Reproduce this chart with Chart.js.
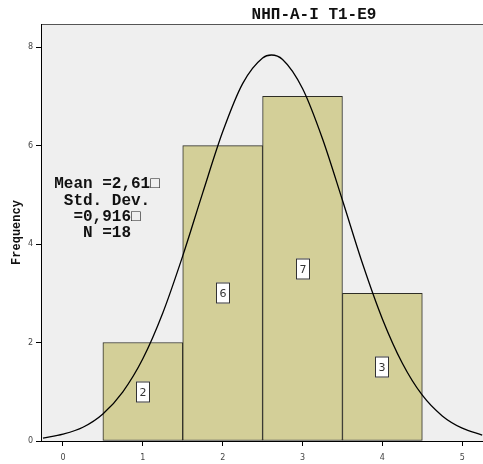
<!DOCTYPE html>
<html>
<head>
<meta charset="utf-8">
<script src="https://cdn.jsdelivr.net/npm/chart.js@4.4.1/dist/chart.umd.min.js"></script>
<style>
  html, body { margin: 0; padding: 0; background: #ffffff; }
  #wrap { width: 483px; height: 464px; position: relative; }
</style>
</head>
<body>
<div id="wrap"><canvas id="c" width="483" height="464"></canvas></div>
<script>
// ---- data ----
const binCenters = [1, 2, 3, 4];
const frequencies = [2, 6, 7, 3];
const xTickValues = [0, 1, 2, 3, 4, 5];
const yTickValues = [0, 2, 4, 6, 8];
// normal curve values (mean 2.61, sd 0.916, N 18)
const curveX = [-0.25, 0, 0.25, 0.5, 0.75, 1, 1.25, 1.5, 1.75, 2, 2.25, 2.5, 2.61, 2.75, 3, 3.25, 3.5, 3.75, 4, 4.25, 4.5, 4.75, 5, 5.25];
const curveY = [0.06, 0.14, 0.28, 0.55, 1.00, 1.67, 2.60, 3.76, 5.04, 6.28, 7.26, 7.78, 7.84, 7.75, 7.16, 6.14, 4.89, 3.61, 2.48, 1.58, 0.93, 0.51, 0.26, 0.12];
const titleText = "NHΠ-A-I T1-E9";
const statsLines = ["Mean =2,61\u25A1", "Std. Dev.", "=0,916\u25A1", "N =18"];
const yAxisTitle = "Frequency";

const MONO = '"Liberation Mono", "DejaVu Sans Mono", monospace';

const bgPlugin = {
  id: 'bg',
  beforeDraw(chart) {
    const {ctx, chartArea: a} = chart;
    ctx.save();
    ctx.fillStyle = '#efefef';
    ctx.fillRect(a.left, a.top, a.right - a.left, a.bottom - a.top);
    ctx.strokeStyle = '#555555';
    ctx.lineWidth = 1;
    ctx.beginPath();
    ctx.moveTo(a.left, a.top + 0.5);
    ctx.lineTo(a.right, a.top + 0.5);
    ctx.stroke();
    ctx.restore();
  },
  afterDatasetsDraw(chart) {
    const {ctx} = chart;
    const xs = chart.scales.x, ys = chart.scales.y;
    ctx.save();
    ctx.font = '11px "DejaVu Sans", sans-serif';
    ctx.textAlign = 'center';
    ctx.textBaseline = 'middle';
    binCenters.forEach((b, i) => {
      const px = Math.round(xs.getPixelForValue(b));
      const py = Math.round(ys.getPixelForValue(frequencies[i] / 2));
      const w = 14, h = 21;
      ctx.fillStyle = '#ffffff';
      ctx.fillRect(px - w / 2, py - h / 2, w, h);
      ctx.strokeStyle = '#333333';
      ctx.lineWidth = 1;
      ctx.strokeRect(px - w / 2 + 0.5, py - h / 2 + 0.5, w - 1, h - 1);
      ctx.fillStyle = '#333333';
      ctx.fillText(String(frequencies[i]), px, py + 1);
    });
    ctx.restore();
  },
  afterDraw(chart) {
    const {ctx} = chart;
    ctx.save();
    ctx.fillStyle = '#111111';
    ctx.textAlign = 'center';
    ctx.textBaseline = 'middle';
    ctx.font = 'bold 16px ' + MONO;
    ctx.fillText(titleText, 314, 15);
    ctx.font = 'bold 16px ' + MONO;
    const ys0 = [184, 201, 217, 233];
    statsLines.forEach((l, i) => ctx.fillText(l, 107, ys0[i]));
    ctx.restore();
  }
};

const ctx = document.getElementById('c').getContext('2d');
new Chart(ctx, {
  data: {
    datasets: [
      {
        type: 'bar',
        data: binCenters.map((b, i) => ({x: b, y: frequencies[i]})),
        backgroundColor: '#d3cf98',
        borderColor: '#2e2e26',
        borderWidth: 1,
        borderSkipped: false,
        barPercentage: 1,
        categoryPercentage: 1,
        order: 2
      },
      {
        type: 'line',
        data: curveX.map((x, i) => ({x: x, y: curveY[i]})),
        borderColor: '#000000',
        borderWidth: 1.3,
        pointRadius: 0,
        tension: 0.4,
        cubicInterpolationMode: 'monotone',
        fill: false,
        order: 1
      }
    ]
  },
  options: {
    responsive: false,
    animation: false,
    layout: { padding: { left: 0, right: 0, top: 24, bottom: 0 } },
    plugins: { legend: { display: false }, tooltip: { enabled: false } },
    scales: {
      x: {
        type: 'linear',
        offset: false,
        min: -0.275,
        max: 5.26,
        afterBuildTicks(s) { s.ticks = xTickValues.map(v => ({value: v})); },
        afterFit(s) { s.height = 23; },
        grid: { display: true, offset: false, drawOnChartArea: false, drawTicks: true, tickLength: 5, color: '#000000', lineWidth: 1 },
        border: { display: true, color: '#000000', width: 1 },
        ticks: { font: { size: 8, family: '"DejaVu Sans", sans-serif' }, color: '#444444', padding: 7, maxRotation: 0 }
      },
      y: {
        type: 'linear',
        min: 0,
        max: 8.47,
        afterBuildTicks(s) { s.ticks = yTickValues.map(v => ({value: v})); },
        afterFit(s) { s.width = 41; },
        grid: { display: true, drawOnChartArea: false, drawTicks: true, tickLength: 5, color: '#000000', lineWidth: 1 },
        border: { display: true, color: '#000000', width: 1 },
        ticks: { font: { size: 8, family: '"DejaVu Sans", sans-serif' }, color: '#444444', padding: 3 },
        title: { display: true, text: yAxisTitle, color: '#111111', font: { size: 12, weight: 'bold', family: MONO }, padding: { top: 10, bottom: 0 } }
      }
    }
  },
  plugins: [bgPlugin]
});
</script>
</body>
</html>
